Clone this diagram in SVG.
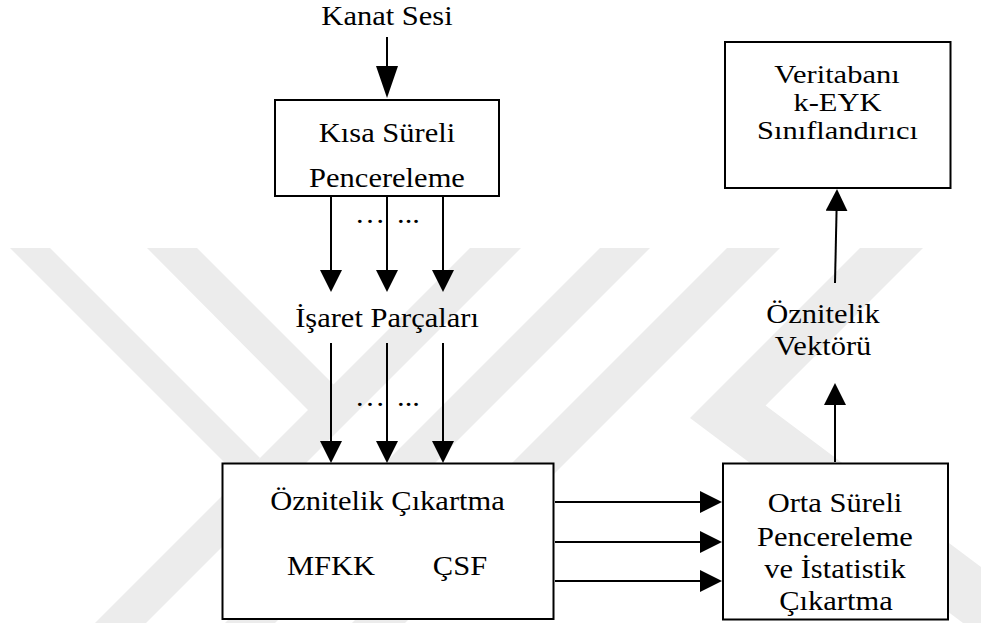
<svg xmlns="http://www.w3.org/2000/svg" width="981" height="623" viewBox="0 0 981 623">
  <style>
    .t { font-family: "Liberation Serif", "Times New Roman", serif; font-size: 27px; text-anchor: middle; fill: #000; }
    .ts { font-size: 24.5px; }
    .box { fill: #fff; stroke: #000; stroke-width: 2; }
    .ln { stroke: #000; stroke-width: 2; fill: none; }
    .wm { fill: #ececec; stroke: none; }
  </style>
  <defs>
    <marker id="ah" viewBox="0 0 22 22" refX="12" refY="11" markerWidth="22" markerHeight="22" markerUnits="userSpaceOnUse" orient="auto">
      <path d="M0,0 L22,11 L0,22 Z" fill="#000"/>
    </marker>
    <marker id="ahL" viewBox="0 0 32 22" refX="22" refY="11" markerWidth="32" markerHeight="22" markerUnits="userSpaceOnUse" orient="auto">
      <path d="M0,0 L32,11 L0,22 Z" fill="#000"/>
    </marker>
  </defs>
  <rect width="981" height="623" fill="#fff"/>

  <g id="watermark">
    <polygon class="wm" points="10,248 50,248 260,458 240,478"/>
    <polygon class="wm" points="147,248 197,248 359,410 308,410"/>
    <polygon class="wm" points="470,248 521,248 146,623 95,623"/>
    <polygon class="wm" points="600,248 650,248 275,623 225,623"/>
    <polygon class="wm" points="727,248 780,248 405,623 352,623"/>
    <polygon class="wm" points="860,248 923,248 765.6,405.4 981,567 981,623 963,623 690,418"/>
  </g>

  <g id="connectors">
    <line class="ln" x1="387" y1="37" x2="387" y2="88" marker-end="url(#ahL)"/>
    <line class="ln" x1="331" y1="197" x2="331" y2="282" marker-end="url(#ah)"/>
    <line class="ln" x1="387" y1="197" x2="387" y2="282" marker-end="url(#ah)"/>
    <line class="ln" x1="443" y1="197" x2="443" y2="282" marker-end="url(#ah)"/>
    <line class="ln" x1="331" y1="343" x2="331" y2="453" marker-end="url(#ah)"/>
    <line class="ln" x1="387" y1="343" x2="387" y2="453" marker-end="url(#ah)"/>
    <line class="ln" x1="443" y1="343" x2="443" y2="453" marker-end="url(#ah)"/>
    <line class="ln" x1="555" y1="502" x2="712" y2="502" marker-end="url(#ah)"/>
    <line class="ln" x1="555" y1="542" x2="712" y2="542" marker-end="url(#ah)"/>
    <line class="ln" x1="555" y1="581" x2="712" y2="581" marker-end="url(#ah)"/>
    <line class="ln" x1="835" y1="462" x2="835" y2="393" marker-end="url(#ah)"/>
    <line class="ln" x1="835" y1="283" x2="836.8" y2="199" marker-end="url(#ah)"/>
  </g>

  <g id="input-label">
    <text class="t" transform="translate(387 25) scale(1.13 1)">Kanat Sesi</text>
  </g>

  <g id="kisa-sureli">
    <rect class="box" x="275" y="100" width="224" height="96"/>
    <text class="t" transform="translate(387 142) scale(1.13 1)">Kısa Süreli</text>
    <text class="t" transform="translate(387 187) scale(1.13 1)">Pencereleme</text>
  </g>

  <g id="dots-top">
    <text class="t" transform="translate(370 223) scale(1.13 1)">…</text>
    <text class="t" transform="translate(408.5 223) scale(1.13 1)">...</text>
  </g>

  <g id="isaret-parcalari">
    <text class="t" transform="translate(387 327) scale(1.13 1)">İşaret Parçaları</text>
  </g>

  <g id="dots-bottom">
    <text class="t" transform="translate(370 406) scale(1.13 1)">…</text>
    <text class="t" transform="translate(408.5 406) scale(1.13 1)">...</text>
  </g>

  <g id="oznitelik-cikartma">
    <rect class="box" x="222.5" y="463.5" width="331" height="155.5"/>
    <text class="t" transform="translate(387.5 510) scale(1.13 1)">Öznitelik Çıkartma</text>
    <text class="t" transform="translate(331 575) scale(1.13 1)">MFKK</text>
    <text class="t" transform="translate(460 575) scale(1.13 1)">ÇSF</text>
  </g>

  <g id="orta-sureli">
    <rect class="box" x="723" y="463.5" width="225" height="156"/>
    <text class="t" transform="translate(835 512) scale(1.13 1)">Orta Süreli</text>
    <text class="t" transform="translate(835 546) scale(1.13 1)">Pencereleme</text>
    <text class="t" transform="translate(835 578) scale(1.13 1)">ve İstatistik</text>
    <text class="t" transform="translate(836 610) scale(1.13 1)">Çıkartma</text>
  </g>

  <g id="oznitelik-vektoru">
    <text class="t" transform="translate(823 323) scale(1.13 1)">Öznitelik</text>
    <text class="t" transform="translate(823 355) scale(1.13 1)">Vektörü</text>
  </g>

  <g id="veritabani">
    <rect class="box" x="725" y="42" width="225.5" height="146"/>
    <text class="t ts" transform="translate(837 83) scale(1.245 1)">Veritabanı</text>
    <text class="t ts" transform="translate(837.5 111) scale(1.245 1)">k-EYK</text>
    <text class="t ts" transform="translate(837.5 139) scale(1.245 1)">Sınıflandırıcı</text>
  </g>
</svg>
